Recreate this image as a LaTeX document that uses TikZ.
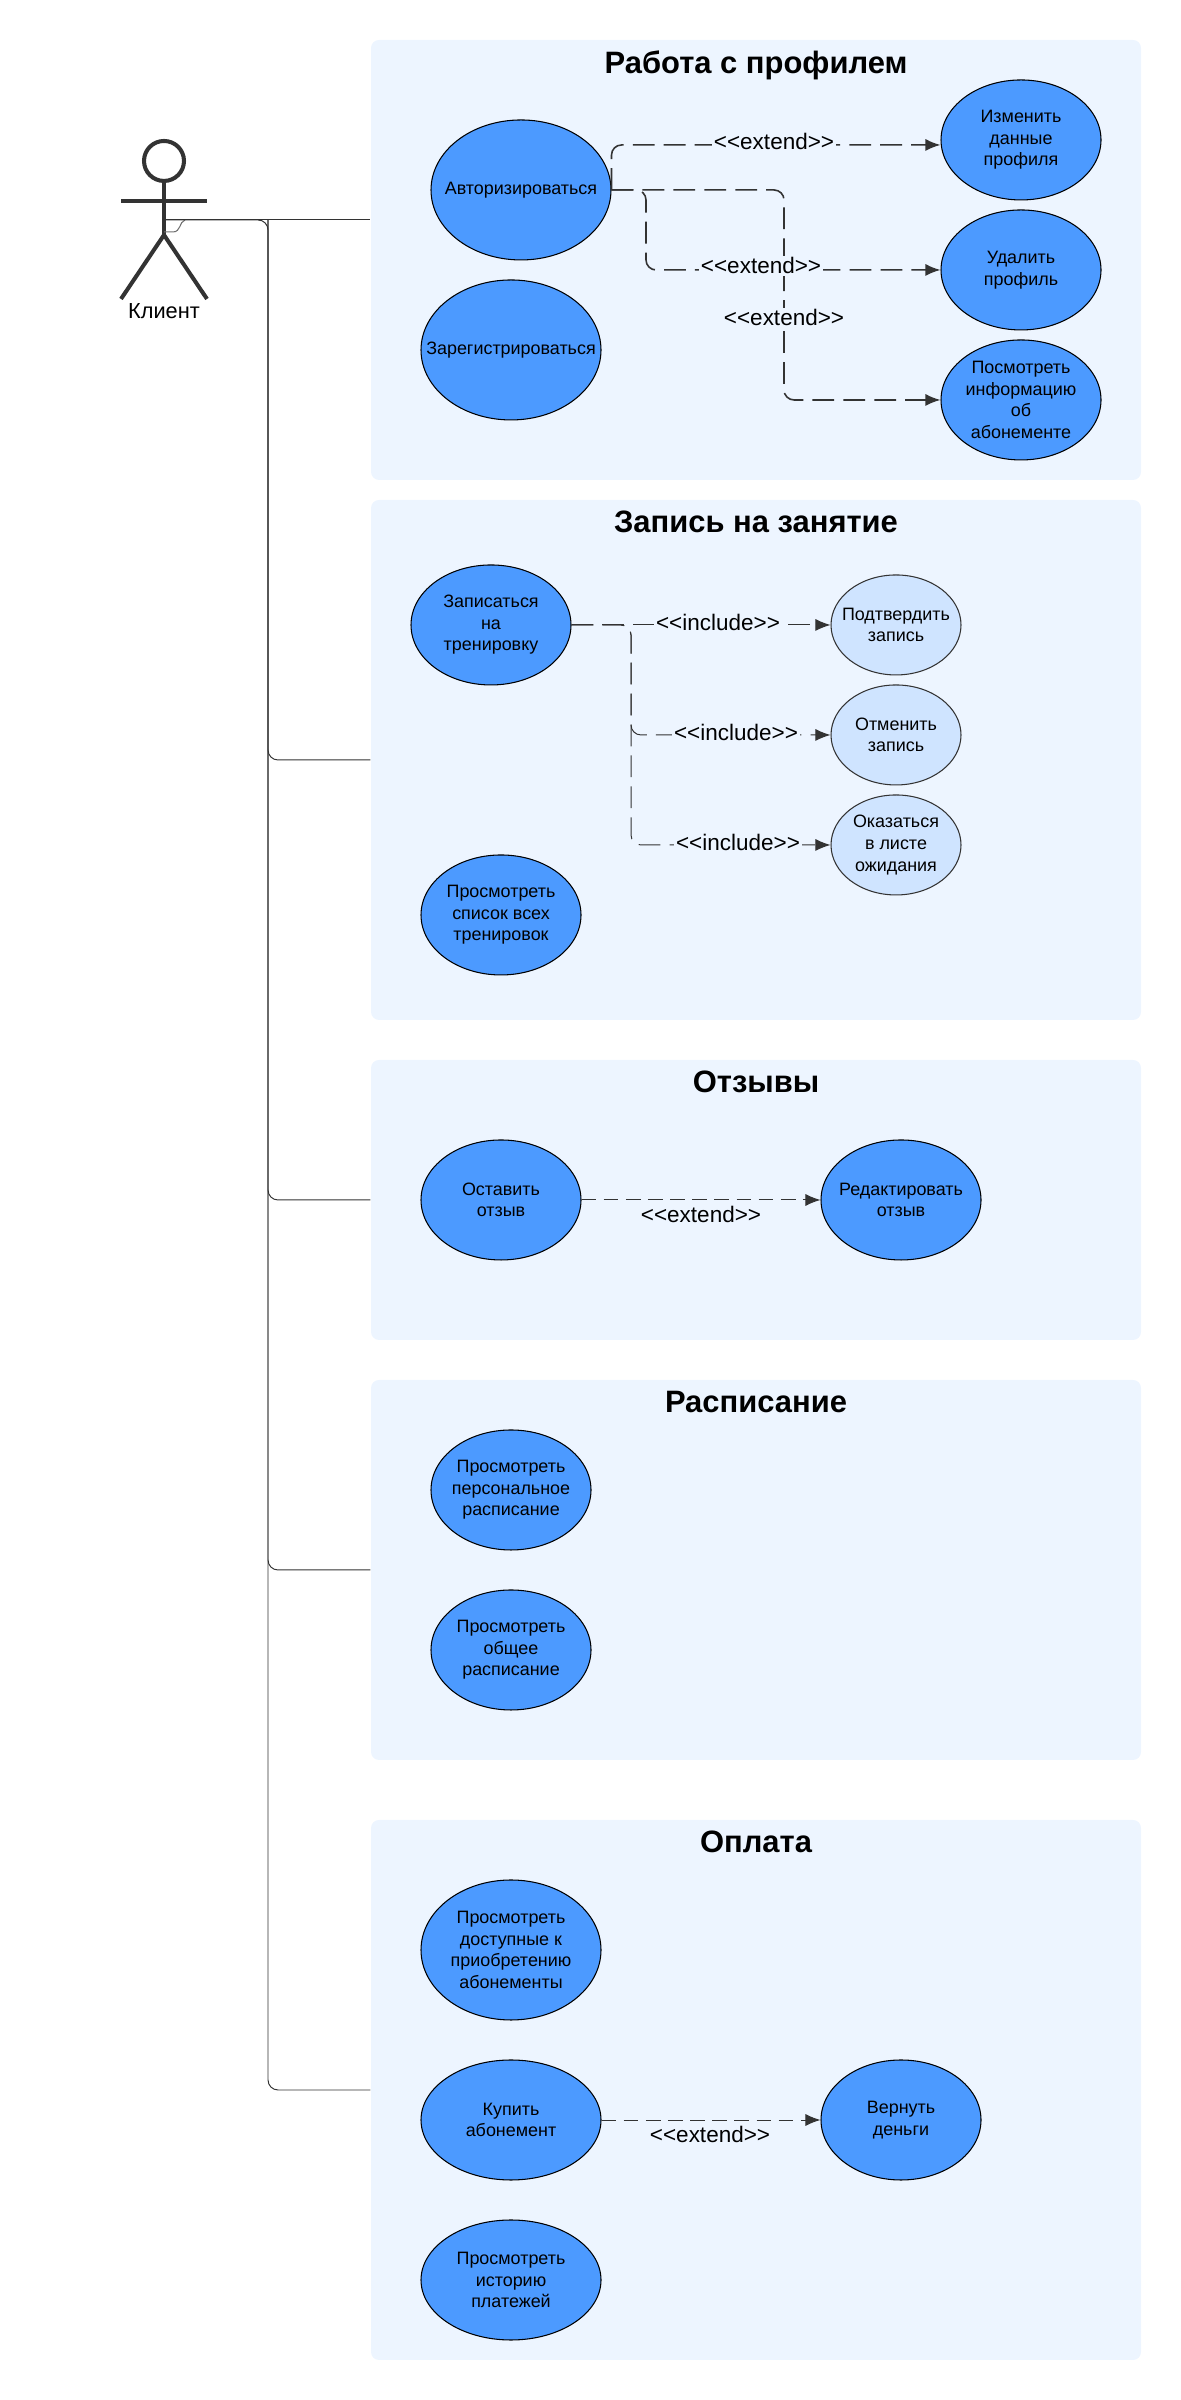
\documentclass[tikz,border=0pt]{standalone}
\usepackage{fontspec}
\setmainfont{Liberation Sans}
\usetikzlibrary{arrows.meta,shapes.geometric}
\definecolor{panelfill}{HTML}{EDF5FF}
\definecolor{casefill}{HTML}{4C9AFF}
\definecolor{caselight}{HTML}{CFE4FF}
\definecolor{inkline}{HTML}{333333}
\tikzset{
  panel/.style={fill=panelfill,rounded corners=0.08cm,minimum width=7.70cm,inner sep=0pt},
  paneltitle/.style={font=\fontsize{8.8}{10}\selectfont\bfseries},
  usecase/.style={ellipse,draw=black,line width=0.3pt,fill=casefill,inner xsep=-1cm,inner ysep=0pt,
    align=center,font=\fontsize{5.1}{6.15}\selectfont,minimum width=1.60cm,minimum height=1.20cm},
  wide/.style={minimum width=1.80cm},
  tall/.style={minimum height=1.40cm},
  subcase/.style={fill=caselight,draw=inkline,minimum width=1.30cm,minimum height=1.00cm},
  stereo/.style={fill=panelfill,inner sep=0.5pt,font=\fontsize{6.4}{7}\selectfont},
  link/.style={draw=inkline,line width=0.28pt,rounded corners=0.1cm},
  ext/.style={draw=inkline,line width=0.45pt,rounded corners=0.1cm,dash pattern=on 6.2pt off 2.6pt,
    -{Latex[length=1.5mm,width=1.2mm]}},
  inc/.style={ext,line width=0.28pt},
  extthin/.style={ext,line width=0.28pt,dash pattern=on 4.2pt off 2.1pt},
  limb/.style={draw=inkline,line width=1.15pt},
}
\begin{document}
\begin{tikzpicture}
  \useasboundingbox (-0.01,0) rectangle (11.79,24.00);
  % --- Панели ---
  \node[panel,minimum height=4.40cm] (prof) at (7.55,21.40) {};
  \node[panel,minimum height=5.20cm] (zap) at (7.55,16.40) {};
  \node[panel,minimum height=2.80cm] (otz) at (7.55,12.00) {};
  \node[panel,minimum height=3.80cm] (ras) at (7.55,8.30) {};
  \node[panel,minimum height=5.40cm] (opl) at (7.55,3.10) {};
  \node[paneltitle] (proft) at (7.55,23.35) {Работа с профилем};
  \node[paneltitle] (zapt) at (7.55,18.78) {Запись на занятие};
  \node[paneltitle] (otzt) at (7.55,13.18) {Отзывы};
  \node[paneltitle] (rast) at (7.55,9.98) {Расписание};
  \node[paneltitle] (oplt) at (7.55,5.58) {Оплата};
  % --- Клиент ---
  \node[circle,limb,minimum size=0.40cm,inner sep=0pt] (head) at (1.63,22.39) {};
  \coordinate (hip) at (1.63,21.65);
  \coordinate (act) at (1.63,21.80);
  \coordinate (bus) at (2.67,21.80);
  \coordinate (armr) at (1.20,21.99);
  \coordinate (arml) at (2.06,21.99);
  \coordinate (legl) at (1.20,21.01);
  \coordinate (legr) at (2.06,21.01);
  \draw[limb] (head) -- (hip);
  \draw[limb] (armr) -- (arml);
  \draw[limb] (legl) -- (hip) -- (legr);
  \node[font=\fontsize{6.2}{7}\selectfont] (client) at (1.63,20.89) {Клиент};
  % --- Линии от клиента ---
  \draw[inkline!70,line width=0.3pt] (1.63,21.68) -- (1.72,21.68) .. controls (1.80,21.68) and (1.78,21.78) .. (1.84,21.80);
  \draw[link] (act) -- (prof.west |- act);
  \draw[link] (act) -- (bus) -- (bus |- zap.west) -- (zap.west);
  \draw[link] (bus) -- (bus |- otz.west) -- (otz.west);
  \draw[link] (bus) -- (bus |- ras.west) -- (ras.west);
  \draw[link] (bus) -- (bus |- opl.west) -- (opl.west);
  % --- Работа с профилем ---
  \node[usecase,wide,tall] (auth) at (5.20,22.10) {Авторизироваться};
  \node[usecase,wide,tall] (reg) at (5.10,20.50) {Зарегистрироваться};
  \node[usecase] (chg) at (10.20,22.60) {Изменить\\данные\\профиля};
  \node[usecase] (del) at (10.20,21.30) {Удалить\\профиль};
  \node[usecase] (info) at (10.20,20.00) {Посмотреть\\информацию\\об\\абонементе};
  \coordinate (chgin) at ([yshift=-0.05cm]chg.west);
  \coordinate (forka) at (6.45,22.10);
  \coordinate (forkb) at (7.83,22.10);
  \draw[ext] (auth.east) |- (chgin);
  \draw[ext] (auth.east) -- (forka) |- (del.west);
  \draw[ext] (auth.east) -- (forkb) |- (info.west);
  \node[stereo] (extchg) at (7.73,22.58) {<{}<extend>{}>};
  \node[stereo] (extdel) at (7.60,21.34) {<{}<extend>{}>};
  \node[stereo] (extinfo) at (7.83,20.82) {<{}<extend>{}>};
  % --- Запись на занятие ---
  \node[usecase] (sign) at (4.90,17.75) {Записаться\\на\\тренировку};
  \node[usecase] (list) at (5.00,14.85) {Просмотреть\\список всех\\тренировок};
  \node[usecase,subcase] (conf) at (8.95,17.75) {Подтвердить\\запись};
  \node[usecase,subcase] (cancel) at (8.95,16.65) {Отменить\\запись};
  \node[usecase,subcase] (wait) at (8.95,15.55) {Оказаться\\в листе\\ожидания};
  \coordinate (forkc) at (6.30,17.75);
  \draw[inc] (sign.east) -- (conf.west);
  \draw[inc] (sign.east) -- (forkc) |- (cancel.west);
  \draw[inc] (sign.east) -- (forkc) |- (wait.west);
  \node[stereo] (incconf) at (7.17,17.78) {<{}<include>{}>};
  \node[stereo] (inccancel) at (7.35,16.68) {<{}<include>{}>};
  \node[stereo] (incwait) at (7.37,15.58) {<{}<include>{}>};
  % --- Отзывы ---
  \node[usecase] (rev) at (5.00,12.00) {Оставить\\отзыв};
  \node[usecase] (edit) at (9.00,12.00) {Редактировать\\отзыв};
  \draw[extthin] (rev.east) -- (edit.west);
  \node[stereo] (extedit) at (7.00,11.86) {<{}<extend>{}>};
  % --- Расписание ---
  \node[usecase] (pers) at (5.10,9.10) {Просмотреть\\персональное\\расписание};
  \node[usecase] (gen) at (5.10,7.50) {Просмотреть\\общее\\расписание};
  % --- Оплата ---
  \node[usecase,wide,tall] (avail) at (5.10,4.50) {Просмотреть\\доступные к\\приобретению\\абонементы};
  \node[usecase,wide] (buy) at (5.10,2.80) {Купить\\абонемент};
  \node[usecase] (back) at (9.00,2.80) {Вернуть\\деньги};
  \node[usecase,wide] (hist) at (5.10,1.20) {Просмотреть\\историю\\платежей};
  \draw[extthin] (buy.east) -- (back.west);
  \node[stereo] (extback) at (7.09,2.66) {<{}<extend>{}>};
\end{tikzpicture}
\end{document}
